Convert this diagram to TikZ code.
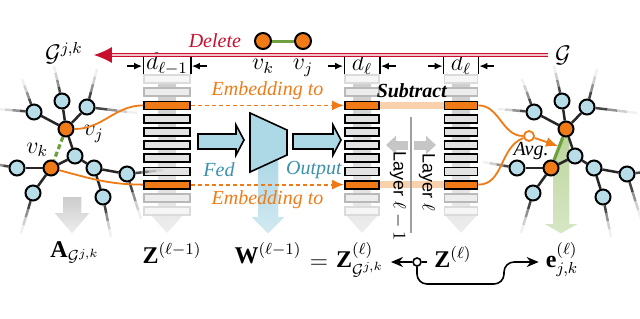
\documentclass[tikz,border=0pt]{standalone}
\usepackage{amsmath}
\usepackage{amssymb}
\usepackage{xcolor}
\usepackage{fontspec}
\setmainfont{Liberation Serif}
\newfontfamily\layerfont{Liberation Sans}
\usepackage{tikz}
\usetikzlibrary{arrows.meta, positioning, calc}

\definecolor{embor}{HTML}{F07B16}
\definecolor{nodeblue}{HTML}{B7DDE8}
\definecolor{fedblue}{HTML}{3C8FAD}
\definecolor{layerblue}{HTML}{ADD8E6}
\definecolor{delred}{HTML}{C8102E}
\definecolor{edgegreen}{HTML}{6FA040}
\definecolor{bandgreen}{HTML}{BCD69E}

% edge that fades out towards a loose end
\newcommand{\fadeedge}[2]{%
  \coordinate (fe) at ($(#1)+(#2)$);
  \draw[edgeline, opacity=0.85] (#1) -- ($(#1)!0.4!(fe)$);
  \draw[edgeline, opacity=0.5] ($(#1)!0.4!(fe)$) -- ($(#1)!0.6!(fe)$);
  \draw[edgeline, opacity=0.22] ($(#1)!0.6!(fe)$) -- ($(#1)!0.8!(fe)$);
  \draw[edgeline, opacity=0.07] ($(#1)!0.8!(fe)$) -- (fe);}

% style, x, top, head start, shaft half width, head half width
\newcommand{\fadearrow}[6]{%
  \shade[#1] ({#2-#5},#3) -- ({#2+#5},#3) -- ({#2+#5},#4) -- ({#2+#6},#4) -- (#2,233)
    -- ({#2-#6},#4) -- ({#2-#5},#4) -- cycle;}

% ego graph around v_j and v_k, prefix and x offset
\newcommand{\egograph}[2]{%
  \node[vnode] (#1j) at ({#2+66},129) {};
  \node[vnode] (#1k) at ({#2+51},168) {};
  \node[gnode] (#1c) at ({#2+75},156) {};
  \node[gnode] (#1a1) at ({#2+62},101) {};
  \node[gnode] (#1a2) at ({#2+87},107) {};
  \node[gnode] (#1a3) at ({#2+34},112) {};
  \node[gnode] (#1b1) at ({#2+17},168) {};
  \node[gnode] (#1b2) at ({#2+33},193) {};
  \node[gnode] (#1c1) at ({#2+94},168) {};
  \node[gnode] (#1c2) at ({#2+127},174) {};
  \node[gnode] (#1c3) at ({#2+103},197) {};
  \foreach \ea/\eb in {j/a1, j/a2, j/a3, j/c, k/c, k/b1, k/b2, c/c1, c1/c2, c1/c3}
    \draw[edgeline] (#1\ea) -- (#1\eb);
  \foreach \n/\dx/\dy in {a1/-8/-35, a2/10/-38, a2/50/6, a3/-12/-33, a3/-36/-3,
      b1/-34/-6, b2/-12/40, c2/36/-4, c2/14/45, c3/8/40}
    \fadeedge{#1\n}{\dx,\dy};}

\begin{document}
\begin{tikzpicture}[x=0.5pt, y=-0.5pt,
    gnode/.style={circle, draw=black, line width=1pt, fill=nodeblue, minimum size=7.5pt, inner sep=0pt},
    vnode/.style={gnode, fill=embor},
    edgeline/.style={draw=black!85, line width=1.25pt},
    rowbox/.style={rectangle, draw=black, line width=0.9pt, fill=gray!22, minimum height=4pt, inner sep=0pt},
    rowlight/.style={rowbox, draw=gray!55, fill=gray!14},
    rowfaint/.style={rowbox, draw=gray!28, fill=gray!7},
    rowhot/.style={rowbox, fill=embor},
    grayfade/.style={top color=gray!40, bottom color=gray!14},
    bluefade/.style={top color=layerblue, bottom color=layerblue!55},
    bigarrow/.style={draw=black, line width=0.8pt, fill=layerblue},
    embarrow/.style={draw=embor, line width=0.9pt, dash pattern=on 2pt off 1.5pt, -{Latex[length=6pt,width=5pt]}},
    embcurve/.style={draw=embor, line width=0.9pt},
    embtext/.style={text=embor, font=\itshape},
    subband/.style={draw=embor!35, line width=3.5pt},
    dimtext/.style={font=\large, inner sep=0pt},
    dimarrow/.style={line width=0.7pt, -{Latex[length=4pt,width=3.5pt]}},
    sidearrow/.style={draw=gray!45, line width=4.5pt, -{Triangle[length=5pt,width=9pt]}},
    layertext/.style={font=\layerfont\small, rotate=-90},
    delline/.style={draw=delred, double=delred!25, double distance=0.6pt, line width=0.6pt, -{Latex[length=9pt,width=8pt]}},
    mlabel/.style={font=\large, anchor=base},
    conn/.style={line width=0.8pt}
]
    \useasboundingbox (0,0) rectangle (640,318);

    % faded arrows behind columns and graphs
    \foreach \cx in {167,362,461}
        \fadearrow{grayfade}{\cx}{74}{214}{9}{17}
    \fadearrow{grayfade}{72}{197}{213}{9}{17}
    \fadearrow{bluefade}{268}{160}{217}{10}{16}
    \shade[top color=bandgreen, bottom color=bandgreen!60] (562,136) -- (569,136) -- (569,224) -- (577,224)
        -- (561,233) -- (545,224) -- (553,224) -- (553,166) -- cycle;

    % embedding matrices
    \foreach \cname/\cx/\cw in {zp/167/23pt, zl/362/17pt, zs/461/16.5pt}
        \foreach \i/\rs in {0/rowfaint, 1/rowlight, 2/rowhot, 3/rowbox, 4/rowbox, 5/rowbox,
                6/rowbox, 7/rowbox, 8/rowhot, 9/rowlight, 10/rowfaint}
            \node[\rs, minimum width=\cw] (\cname-\i) at (\cx,{79+13.2*\i}) {};
    \foreach \cname/\dlab in {zp/d_{\ell-1}, zl/d_{\ell}, zs/d_{\ell}} {
        \node[dimtext] (\cname-dim) at ($(\cname-0.north)+(0,-10)$) {$\dlab$};
        \draw[line width=0.6pt] (\cname-0.north west) -- ++(0,-17);
        \draw[line width=0.6pt] (\cname-0.north east) -- ++(0,-17);
        \draw[dimarrow] ($(\cname-0.north west)+(-16,-8)$) -- ++(15,0);
        \draw[dimarrow] ($(\cname-0.north east)+(16,-8)$) -- ++(-15,0);
    }

    % graphs before and after deleting the edge
    \egograph{G}{0}
    \egograph{H}{500}
    \draw[draw=edgegreen, line width=1.6pt, dash pattern=on 2.5pt off 1.5pt] (Gj) -- (Gk);
    \draw[draw=edgegreen, line width=1.6pt] (Hj) -- (Hk);
    \node[font=\large, right=1pt of Gj, yshift=-2.5pt] (lvj) {$v_j$};
    \node[font=\large, above left=-1pt and -5pt of Gk] (lvk) {$v_k$};

    % embeddings
    \draw[embcurve] (Gj) to[out=0, in=180] (zp-2);
    \draw[embcurve] (Gk) to[out=-15, in=180] (zp-8);
    \draw[embarrow] (zp-2) -- node[embtext, above=-1pt] {Embedding to} (zl-2);
    \draw[embarrow] (zp-8) -- node[embtext, below=-1pt] {Embedding to} (zl-8);
    \draw[subband] (zl-2) -- node[above=-1pt, font=\bfseries\itshape] {Subtract} (zs-2);
    \draw[subband] (zl-8) -- (zs-8);
    \node[circle, draw=embor, fill=white, line width=0.9pt, minimum size=5pt, inner sep=0pt] (avg) at (529,136) {};
    \draw[embcurve] (zs-2) to[out=0, in=180] (avg);
    \draw[embcurve] (zs-8) to[out=0, in=200] (avg);
    \coordinate (avgtip) at (558,146);
    \draw[embcurve, -{Latex[length=6pt,width=5pt]}] (avg) -- (avgtip);
    \node[font=\itshape] (avglabel) at (531,151) {Avg.};

    % layer weights
    \draw[bigarrow] (198,134) -- (236,134) -- (236,125) -- (244,140) -- (236,155) -- (236,149) -- (198,149) -- cycle;
    \draw[bigarrow] (250,113) -- (287,130) -- (287,155) -- (250,172) -- cycle;
    \draw[bigarrow] (293,134) -- (333,134) -- (333,125) -- (341,140) -- (333,155) -- (333,149) -- (293,149) -- cycle;
    \node[font=\itshape, text=fedblue] (fed) at (219,170) {Fed};
    \node[font=\itshape, text=fedblue] (output) at (314,170) {Output};

    % layer split
    \draw[gray!75, line width=0.7pt] (411,117) -- (411,233);
    \draw[sidearrow] (408,145) -- (386,145);
    \draw[sidearrow] (414,145) -- (436,145);
    \node[layertext] (layprev) at (398,196) {Layer $\ell-1$};
    \node[layertext] (laycur) at (427,182) {Layer $\ell$};

    % deleted edge
    \node[vnode, minimum size=8pt] (delk) at (263,41) {};
    \node[vnode, minimum size=8pt] (delj) at (303,41) {};
    \draw[draw=edgegreen, line width=1.5pt] (delk) -- (delj);
    \node[font=\large, below=1pt of delk] (ldk) {$v_k$};
    \node[font=\large, below=1pt of delj] (ldj) {$v_j$};
    \node[font=\itshape, text=delred, left=3pt of delk] (deltext) {Delete};
    \node[font=\large] (gjk) at (64,53) {$\mathcal{G}^{j,k}$};
    \node[font=\large] (gfull) at (563,55) {$\mathcal{G}$};
    \draw[delline, shorten >=2pt] (gfull.west) -- (gfull.west -| gjk.east);

    % formula row
    \node[mlabel] (adj) at (75,257) {$\mathbf{A}_{\mathcal{G}^{j,k}}$};
    \node[mlabel] (zprev) at (172,263) {$\mathbf{Z}^{(\ell-1)}$};
    \node[mlabel] (wprev) at (268,263) {$\mathbf{W}^{(\ell-1)}$};
    \node[font=\large] (eqsign) at (319,264) {$=$};
    \node[mlabel] (zgraph) at (360,267) {$\mathbf{Z}^{(\ell)}_{\mathcal{G}^{j,k}}$};
    \node[mlabel] (zlayer) at (453,267) {$\mathbf{Z}^{(\ell)}$};
    \node[mlabel] (evec) at (562,267) {$\mathbf{e}^{(\ell)}_{j,k}$};
    \node[circle, draw, fill=white, line width=0.8pt, minimum size=4pt, inner sep=0pt] (split) at (417,262) {};
    \coordinate (bend) at (504,284);
    \draw[conn] (split -| zlayer.west) -- (split);
    \draw[conn, -{Stealth[length=6pt,width=5pt]}] (split) -- (split -| zgraph.east);
    \draw[conn, rounded corners=5pt, -{Stealth[length=6pt,width=5pt]}] (split) |- (bend) |- (split -| evec.west);
\end{tikzpicture}
\end{document}
